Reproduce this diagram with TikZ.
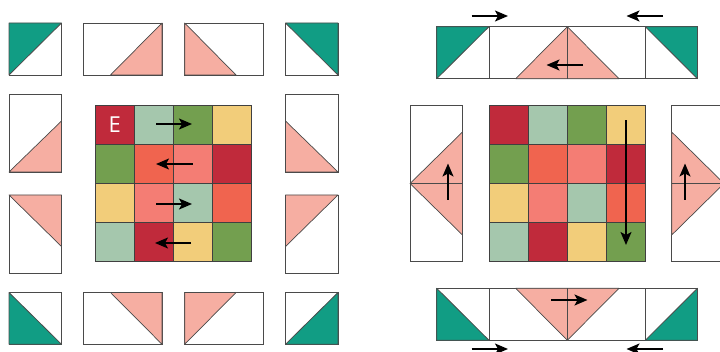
\documentclass[tikz,border=0pt]{standalone}
\usepackage{fontspec}
\setmainfont{Open Sans}
\usetikzlibrary{arrows.meta}
\definecolor{cRed}{HTML}{C02A3B}
\definecolor{cLG}{HTML}{A5C7AD}
\definecolor{cGr}{HTML}{739F4F}
\definecolor{cYe}{HTML}{F2CD7A}
\definecolor{cOr}{HTML}{F0644F}
\definecolor{cSa}{HTML}{F47D74}
\definecolor{cPink}{HTML}{F6AEA2}
\definecolor{cTeal}{HTML}{119D84}
\definecolor{cLine}{HTML}{4A4A4A}
\tikzset{
  outline/.style={draw=cLine,line width=0.9pt,fill=white},
  pinktri/.style={draw=cLine,line width=0.7pt,fill=cPink,line join=round},
  tealtri/.style={draw=black!70,line width=0.8pt,fill=cTeal,line join=round},
  cell/.style={draw=black!75,line width=0.8pt},
  mover/.style={draw=black,line width=1.6pt,-{Stealth[length=13pt,width=11pt,inset=3pt]}},
}
\newcommand{\gridat}[1]{%
  \begin{scope}[shift={(#1,105.3)}]
    \foreach \c [count=\i from 0] in {cRed,cLG,cGr,cYe,cGr,cOr,cSa,cRed,cYe,cSa,cLG,cOr,cLG,cRed,cYe,cGr}{
      \pgfmathsetmacro{\cx}{39.05*mod(\i,4)}
      \pgfmathsetmacro{\cy}{39.05*floor(\i/4)}
      \path[cell,fill=\c] (\cx,\cy) rectangle ++(39.05,39.05);
    }
  \end{scope}}
\begin{document}
\begin{tikzpicture}[x=1pt,y=-1pt]
\useasboundingbox (0,0) rectangle (720,352);
\clip (0,0) rectangle (720,352);
% ---- left figure: loose pieces
\draw[outline] (9,23) rectangle (61.5,75);
\draw[tealtri] (9,23) -- (61.5,23) -- (9,75) -- cycle;
\draw[outline] (83.7,23) rectangle (162,75);
\draw[pinktri] (110.5,75) -- (162,23) -- (162,75) -- cycle;
\draw[outline] (184.7,23) rectangle (263,75);
\draw[pinktri] (184.7,23) -- (236,75) -- (184.7,75) -- cycle;
\draw[outline] (285.5,23) rectangle (338,75);
\draw[tealtri] (285.5,23) -- (338,23) -- (338,75) -- cycle;
\draw[outline] (9,94.5) rectangle (61.5,172);
\draw[pinktri] (9,172) -- (61.5,121) -- (61.5,172) -- cycle;
\draw[outline] (285.5,94.5) rectangle (338,172);
\draw[pinktri] (285.5,121) -- (338,172) -- (285.5,172) -- cycle;
\draw[outline] (9,195) rectangle (61.5,273.3);
\draw[pinktri] (9,195) -- (61.5,195) -- (61.5,246.5) -- cycle;
\draw[outline] (285.5,195) rectangle (338,273.3);
\draw[pinktri] (285.5,195) -- (338,195) -- (285.5,246.5) -- cycle;
\draw[outline] (9,292.5) rectangle (61.5,344.3);
\draw[tealtri] (9,292.5) -- (61.5,344.3) -- (9,344.3) -- cycle;
\draw[outline] (83.7,292.5) rectangle (162,344.3);
\draw[pinktri] (110.5,292.5) -- (162,292.5) -- (162,344.3) -- cycle;
\draw[outline] (184.7,292.5) rectangle (263,344.3);
\draw[pinktri] (184.7,292.5) -- (236,292.5) -- (184.7,344.3) -- cycle;
\draw[outline] (285.5,292.5) rectangle (338,344.3);
\draw[tealtri] (338,292.5) -- (338,344.3) -- (285.5,344.3) -- cycle;
\gridat{95.3}
\node[text=white,font=\fontsize{22}{22}\selectfont,inner sep=0pt] (letterE) at (114.8,124.8) {E};
% ---- right figure: strips
\draw[outline] (436.7,26.7) rectangle (697.5,78.7);
\draw[tealtri] (436.7,26.7) -- (489,26.7) -- (436.7,78.7) -- cycle;
\draw[tealtri] (645.3,26.7) -- (697.5,26.7) -- (697.5,78.7) -- cycle;
\draw[pinktri] (515.7,78.7) -- (567.3,26.7) -- (619,78.7) -- cycle;
\foreach \x in {489,567.3,645.3} \draw[cLine,line width=0.8pt] (\x,26.7) -- (\x,78.7);
\draw[outline] (436.7,288.3) rectangle (697.5,340.3);
\draw[tealtri] (436.7,288.3) -- (489,340.3) -- (436.7,340.3) -- cycle;
\draw[tealtri] (697.5,288.3) -- (697.5,340.3) -- (645.3,340.3) -- cycle;
\draw[pinktri] (515.7,288.3) -- (619,288.3) -- (567.3,340.3) -- cycle;
\foreach \x in {489,567.3,645.3} \draw[cLine,line width=0.8pt] (\x,288.3) -- (\x,340.3);
\draw[outline] (410,105.3) rectangle (462.5,261.7);
\draw[pinktri] (410,183.5) -- (462.5,132) -- (462.5,235) -- cycle;
\draw[cLine,line width=0.8pt] (410,183.5) -- (462.5,183.5);
\draw[outline] (671.7,105.3) rectangle (724,261.7);
\draw[pinktri] (671.7,132) -- (724,183.5) -- (671.7,235) -- cycle;
\draw[cLine,line width=0.8pt] (671.7,183.5) -- (724,183.5);
\gridat{489}
% ---- arrow end points
\coordinate (a1s) at (156,124); \coordinate (a1e) at (192,124);
\coordinate (a2s) at (192.5,164); \coordinate (a2e) at (156,164);
\coordinate (a3s) at (156,204); \coordinate (a3e) at (192,204);
\coordinate (a4s) at (191,243); \coordinate (a4e) at (155,243);
\coordinate (b1s) at (471.5,16); \coordinate (b1e) at (508,16);
\coordinate (b2s) at (663,16); \coordinate (b2e) at (626.5,16);
\coordinate (b3s) at (583,65); \coordinate (b3e) at (546.5,65);
\coordinate (b4s) at (626,120.5); \coordinate (b4e) at (626,245);
\coordinate (b5s) at (448,200); \coordinate (b5e) at (448,163.5);
\coordinate (b6s) at (685,200); \coordinate (b6e) at (685,163.5);
\coordinate (b7s) at (551,300); \coordinate (b7e) at (587.5,300);
\coordinate (b8s) at (471.5,349); \coordinate (b8e) at (508,349);
\coordinate (b9s) at (663,349); \coordinate (b9e) at (626.5,349);
\foreach \n in {a1,a2,a3,a4,b1,b2,b3,b4,b5,b6,b7,b8,b9}
  \draw[mover] (\n s) -- (\n e);
\end{tikzpicture}
\end{document}
